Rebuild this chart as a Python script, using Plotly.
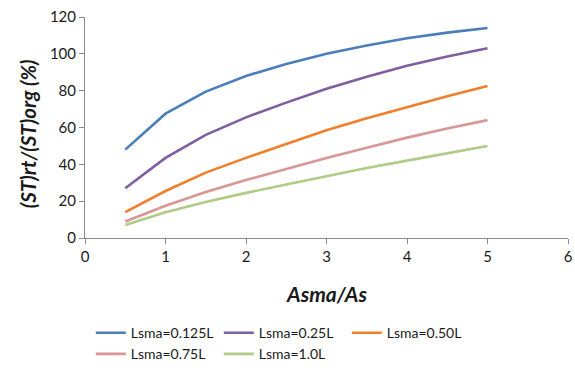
import plotly.graph_objects as go

# Ratio of steel area (Asma/As) and relative stiffness for several SMA lengths
asma_ratio = [0.5, 1, 1.5, 2, 2.5, 3, 3.5, 4, 4.5, 5]

series_names = ["Lsma=0.125L", "Lsma=0.25L", "Lsma=0.50L", "Lsma=0.75L", "Lsma=1.0L"]
lsma_0125 = [48, 67.5, 79.5, 88, 94.5, 100, 104.5, 108.5, 111.5, 114]
lsma_025 = [27, 43.5, 56, 65.5, 73.5, 81, 87.5, 93.5, 98.5, 103]
lsma_050 = [14, 25.5, 35.5, 43.5, 51, 58.5, 65, 71, 77, 82.5]
lsma_075 = [9, 17.5, 25, 31.5, 37.5, 43.5, 49, 54.5, 59.5, 64]
lsma_100 = [7, 14, 19.5, 24.5, 29, 33.5, 38, 42, 46, 50]

x_ticks = [0, 1, 2, 3, 4, 5, 6]
y_ticks = [0, 20, 40, 60, 80, 100, 120]

colors = ["#4A7EBB", "#7D5FA0", "#F07F2B", "#D99694", "#AFCB86"]
all_series = [lsma_0125, lsma_025, lsma_050, lsma_075, lsma_100]

FONT = "Lato, 'Open Sans', sans-serif"

fig = go.Figure()
for name, values, color in zip(series_names, all_series, colors):
    fig.add_trace(go.Scatter(
        x=asma_ratio, y=values, name=name, mode="lines",
        line=dict(color=color, width=2.6),
    ))

axis_style = dict(
    showgrid=False, zeroline=False, showline=True,
    linecolor="#8C8C8C", linewidth=1,
    ticks="outside", ticklen=5, tickcolor="#8C8C8C", tickwidth=1,
    tickfont=dict(family=FONT, size=15, color="#1A1A1A"),
)

fig.update_layout(
    width=575, height=375,
    margin=dict(l=85, r=7, t=17, b=137, autoexpand=False),
    paper_bgcolor="white", plot_bgcolor="white",
    font=dict(family=FONT, color="#1A1A1A"),
    xaxis=dict(range=[0, 6], tickvals=x_ticks, **axis_style),
    yaxis=dict(range=[0, 120], tickvals=y_ticks, **axis_style),
    legend=dict(
        orientation="h", x=0.012, xanchor="left", y=-0.358, yanchor="top",
        entrywidth=83, entrywidthmode="pixels",
        font=dict(family=FONT, size=14, color="#1A1A1A"),
        tracegroupgap=0, itemwidth=30,
    ),
    showlegend=True,
)

fig.add_annotation(
    text="<b><i>Asma/As</i></b>", xref="paper", yref="paper",
    x=0.5, y=-0.25, xanchor="center", yanchor="middle", showarrow=False,
    font=dict(family=FONT, size=21, color="#1A1A1A"),
)
fig.add_annotation(
    text="<b><i>(ST)rt/(ST)org (%)</i></b>", xref="paper", yref="paper",
    x=-0.118, y=0.47, xanchor="center", yanchor="middle", showarrow=False,
    textangle=-90,
    font=dict(family=FONT, size=20.5, color="#1A1A1A"),
)

fig.write_html("out.html")
